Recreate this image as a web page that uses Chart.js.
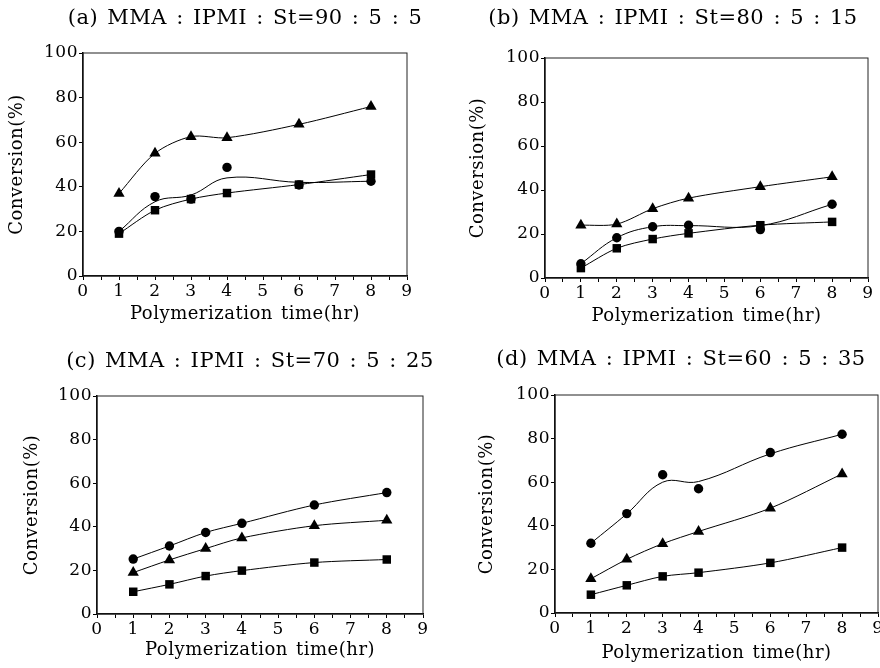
<!DOCTYPE html>
<html>
<head>
<meta charset="utf-8">
<script src="https://cdn.jsdelivr.net/npm/chart.js@4.4.1/dist/chart.umd.min.js"></script>
<style>
  html, body { margin: 0; padding: 0; background: #fff; }
  body { position: relative; width: 880px; height: 668px; overflow: hidden; }
  canvas { position: absolute; }
</style>
</head>
<body>
<script>
// sampling times (hr)
const hours = [1, 2, 3, 4, 6, 8];
const xTickLabels = [0, 1, 2, 3, 4, 5, 6, 7, 8, 9];
const yTickLabels = [0, 20, 40, 60, 80, 100];

// (a) MMA : IPMI : St = 90 : 5 : 5
const aTriangle = [37, 55, 62.5, 62, 68, 76];
const aCircle = [20, 35.6, 34.5, 48.7, 40.8, 42.5];
const aSquare = [19, 29.5, 34.5, 37.2, 41, 45.5];
const aCircleFit = [20, 33.3, 36.3, 44, 42, 42.5];

// (b) 80 : 5 : 15
const bTriangle = [24, 24.5, 31.5, 36.3, 41.5, 46];
const bCircle = [6.5, 18.3, 23.3, 24, 22, 33.5];
const bSquare = [4.5, 13.5, 17.7, 20.3, 24, 25.5];
const bCircleFit = [6.5, 18.3, 23.3, 23.8, 23.8, 33.5];

// (c) 70 : 5 : 25
const cTriangle = [19, 24.8, 30, 34.9, 40.5, 43];
const cCircle = [25.2, 31.2, 37.4, 41.6, 50, 55.7];
const cSquare = [10.2, 13.6, 17.4, 19.9, 23.6, 25];

// (d) 60 : 5 : 35
const dTriangle = [15.7, 24.6, 31.8, 37.4, 48.1, 63.8];
const dCircle = [32, 45.6, 63.4, 57, 73.6, 82];
const dSquare = [8.4, 12.7, 16.8, 18.5, 23, 30];
const dCircleFit = [32, 45.5, 60, 60.3, 73, 82];

// canvas placement; the title is centred on the whole canvas, the spacer
// axis on the right keeps the plot box narrower than that
const panels = [
  { title: '(a) MMA : IPMI : St=90 : 5 : 5', tri: aTriangle, cir: aCircle, sq: aSquare, cirFit: aCircleFit,
    left: 7, top: 0, width: 476, height: 325, yW: 76, xH: 49, titlePad: [6.4, 21.4], rightW: 76 },
  { title: '(b) MMA : IPMI : St=80 : 5 : 15', tri: bTriangle, cir: bCircle, sq: bSquare, cirFit: bCircleFit,
    left: 468, top: 0, width: 410, height: 327, yW: 77, xH: 49, titlePad: [6.4, 26.4], rightW: 10 },
  { title: '(c) MMA : IPMI : St=70 : 5 : 25', tri: cTriangle, cir: cCircle, sq: cSquare, cirFit: null,
    left: 22, top: 330, width: 456, height: 331, yW: 75, xH: 47, titlePad: [19.4, 21.4], rightW: 55 },
  { title: '(d) MMA : IPMI : St=60 : 5 : 35', tri: dTriangle, cir: dCircle, sq: dSquare, cirFit: dCircleFit,
    left: 477, top: 330, width: 408, height: 334, yW: 78, xH: 51, titlePad: [17.4, 22.4], rightW: 7 }
];

Chart.defaults.font.family = "'DejaVu Serif', serif";
Chart.defaults.color = '#000';

// wider text spacing and the closed plot frame
const framePlugin = {
  id: 'frame',
  beforeDraw(chart) {
    chart.ctx.letterSpacing = '0.5px';
    chart.ctx.wordSpacing = '2px';
  },
  afterDraw(chart) {
    const { ctx, chartArea: a } = chart;
    ctx.save();
    ctx.strokeStyle = '#222';
    ctx.lineWidth = 1;
    ctx.strokeRect(a.left, a.top, a.right - a.left, a.bottom - a.top);
    ctx.restore();
  }
};

const toPoints = (vals) => hours.map((h, i) => ({ x: h, y: vals[i] }));

function markers(vals, style, radius, line) {
  return {
    data: toPoints(vals),
    pointStyle: style,
    pointRadius: radius,
    pointHoverRadius: radius,
    pointBackgroundColor: '#000',
    pointBorderColor: '#000',
    pointBorderWidth: 0,
    borderColor: '#000',
    borderWidth: 1,
    showLine: line,
    tension: 0.3
  };
}

function curve(vals) {
  return {
    data: toPoints(vals),
    pointRadius: 0,
    borderColor: '#000',
    borderWidth: 1,
    tension: 0.4
  };
}

panels.forEach((p) => {
  const canvas = document.createElement('canvas');
  canvas.width = p.width;
  canvas.height = p.height;
  canvas.style.left = p.left + 'px';
  canvas.style.top = p.top + 'px';
  document.body.appendChild(canvas);

  const datasets = [
    markers(p.tri, 'triangle', 6.5, true),
    markers(p.cir, 'circle', 4.7, !p.cirFit),
    markers(p.sq, 'rect', 6, true)
  ];
  if (p.cirFit) datasets.push(curve(p.cirFit));

  new Chart(canvas, {
    type: 'line',
    data: { datasets },
    plugins: [framePlugin],
    options: {
      responsive: false,
      animation: false,
      devicePixelRatio: 1,
      layout: { padding: 0 },
      plugins: {
        legend: { display: false },
        tooltip: { enabled: false },
        title: {
          display: true,
          text: p.title,
          color: '#000',
          font: { size: 21, weight: 'normal' },
          padding: { top: p.titlePad[0], bottom: p.titlePad[1] }
        }
      },
      scales: {
        x: {
          type: 'linear',
          min: 0,
          max: 9,
          afterFit: (s) => { s.height = p.xH; },
          ticks: {
            stepSize: 0.5,
            autoSkip: false,
            maxRotation: 0,
            padding: 1,
            font: { size: 17 },
            color: '#000',
            callback: (v) => (xTickLabels.includes(v) ? String(v) : '')
          },
          grid: { drawOnChartArea: false, tickLength: 4, color: '#000', lineWidth: 1 },
          border: { color: '#000', width: 1.5 },
          title: {
            display: true,
            text: 'Polymerization time(hr)',
            font: { size: 18 },
            color: '#000',
            padding: { top: 0, bottom: 0 }
          }
        },
        y: {
          min: 0,
          max: 100,
          afterFit: (s) => { s.width = p.yW; },
          ticks: {
            stepSize: 10,
            padding: 1,
            font: { size: 17 },
            color: '#000',
            callback: (v) => (yTickLabels.includes(v) ? String(v) : '')
          },
          grid: { drawOnChartArea: false, tickLength: 4, color: '#000', lineWidth: 1 },
          border: { color: '#000', width: 1.5 },
          title: {
            display: true,
            text: 'Conversion(%)',
            font: { size: 18 },
            color: '#000',
            padding: { top: 0, bottom: 0 }
          }
        },
        // empty spacer on the right
        yRight: {
          position: 'right',
          min: 0,
          max: 100,
          afterFit: (s) => { s.width = p.rightW; },
          ticks: { display: false },
          grid: { display: false },
          border: { display: false }
        }
      }
    }
  });
});
</script>
</body>
</html>
